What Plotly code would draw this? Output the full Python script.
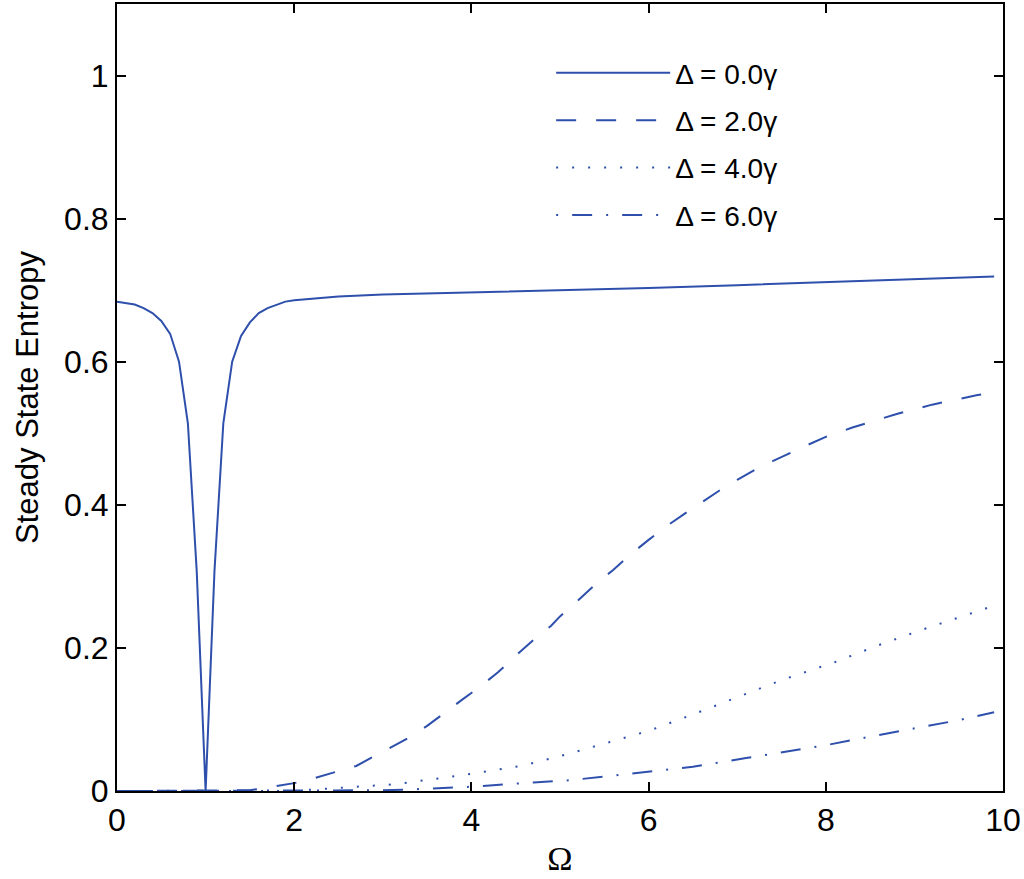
import plotly.graph_objects as go

# Omega values and steady state entropy
omega_d0 = [0, 0.1, 0.2, 0.3, 0.4, 0.5, 0.6, 0.7, 0.8, 0.9, 1.0, 1.1, 1.2, 1.3, 1.4,
            1.5, 1.6, 1.7, 1.8, 1.9, 2.0, 2.5, 3, 4, 5, 6, 7, 8, 9, 9.9]
entropy_d0 = [0.684, 0.682, 0.680, 0.675, 0.668, 0.657, 0.639, 0.600, 0.514, 0.307,
              0.0, 0.307, 0.514, 0.600, 0.636, 0.655, 0.668, 0.675, 0.680, 0.684,
              0.686, 0.691, 0.694, 0.697, 0.699, 0.703, 0.707, 0.711, 0.715, 0.719]

omega_d2 = [0, 1.0, 1.5, 1.7, 2.0, 2.2, 2.4, 2.7, 3.0, 3.3, 3.5, 3.7, 3.9, 4.1, 4.3,
            4.5, 4.7, 4.9, 5.0, 5.2, 5.4, 5.6, 5.8, 6.0, 6.2, 6.4, 6.6, 6.8, 7.0,
            7.2, 7.4, 7.6, 7.8, 8.0, 8.3, 8.8, 9.2, 9.7, 9.9]
entropy_d2 = [0, 0, 0.001, 0.005, 0.011, 0.017, 0.024, 0.035, 0.055, 0.075, 0.091,
              0.110, 0.128, 0.146, 0.166, 0.189, 0.211, 0.231, 0.244, 0.266, 0.289,
              0.309, 0.331, 0.351, 0.370, 0.387, 0.404, 0.420, 0.435, 0.449, 0.461,
              0.473, 0.484, 0.495, 0.508, 0.527, 0.540, 0.553, 0.557]

omega_d4 = [0, 2.0, 2.2, 2.6, 3.1, 3.3, 3.6, 4.0, 4.4, 4.6, 5.1, 5.6, 6.0, 6.5, 7.0,
            7.5, 8.1, 8.6, 9.1, 9.9]
entropy_d4 = [0, 0, 0.002, 0.005, 0.009, 0.012, 0.017, 0.024, 0.032, 0.036, 0.052,
              0.070, 0.084, 0.107, 0.131, 0.155, 0.180, 0.204, 0.226, 0.259]

omega_d6 = [0, 3.0, 3.5, 4.0, 4.7, 5.1, 5.5, 6.0, 6.5, 7.1, 7.5, 8.0, 8.5, 9.0, 9.5, 9.9]
entropy_d6 = [0, 0.001, 0.003, 0.006, 0.012, 0.015, 0.020, 0.027, 0.034, 0.046, 0.054,
              0.064, 0.076, 0.088, 0.099, 0.110]

labels = ["Δ = 0.0γ", "Δ = 2.0γ", "Δ = 4.0γ", "Δ = 6.0γ"]
dashes = ["solid", "20px,20px", "2px,14px", "2px,14px,20px,14px"]

blue = "rgb(46, 80, 172)"
font = "Liberation Sans, Arial, sans-serif"

fig = go.Figure()
series = [(omega_d0, entropy_d0), (omega_d2, entropy_d2),
          (omega_d4, entropy_d4), (omega_d6, entropy_d6)]
for i, (xs, ys) in enumerate(series):
    fig.add_trace(
        go.Scatter(
            x=xs,
            y=ys,
            mode="lines",
            name=labels[i],
            legendgroup=f"g{i}",
            line=dict(color=blue, width=2, dash=dashes[i]),
        )
    )

axis_style = dict(
    showline=True,
    linecolor="black",
    linewidth=2,
    mirror="ticks",
    ticks="inside",
    ticklen=9,
    tickwidth=1.5,
    tickcolor="black",
    showgrid=False,
    zeroline=False,
    automargin=False,
    tickfont=dict(family=font, size=32, color="black"),
)

fig.update_xaxes(
    range=[0, 10],
    tickvals=[0, 2, 4, 6, 8, 10],
    title=dict(text="Ω", font=dict(family="Liberation Serif, serif", size=34, color="black"),
               standoff=9),
    **axis_style,
)
fig.update_yaxes(
    range=[0, 1.1],
    tickvals=[0, 0.2, 0.4, 0.6, 0.8, 1],
    ticktext=["0", "0.2", "0.4", "0.6", "0.8", "1"],
    title=dict(text="Steady State Entropy", font=dict(family=font, size=31, color="black"),
               standoff=16),
    **axis_style,
)

fig.update_layout(
    width=1024,
    height=879,
    margin=dict(l=117, r=21, t=4, b=88),
    plot_bgcolor="white",
    paper_bgcolor="white",
    font=dict(family=font, color="black"),
    legend=dict(
        x=0.49,
        y=0.944,
        xanchor="left",
        yanchor="top",
        bgcolor="rgba(0,0,0,0)",
        itemwidth=114,
        tracegroupgap=8,
        traceorder="grouped",
        font=dict(family=font, size=28, color="black"),
    ),
)

# page body has a default 8px margin, drop it so the figure sits at the corner
fig.write_html(
    "out.html",
    config={"displayModeBar": False},
    post_script="document.body.style.margin='0px';",
)
